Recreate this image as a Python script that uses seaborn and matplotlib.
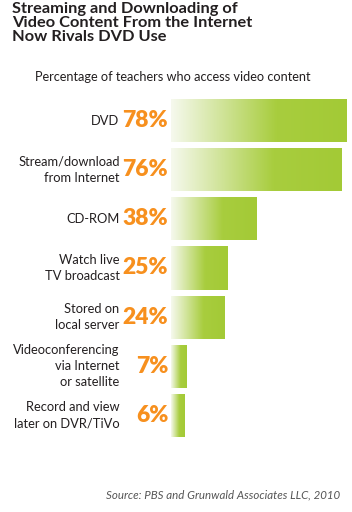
import numpy as np
import matplotlib
matplotlib.use("Agg")
import matplotlib.pyplot as plt
from matplotlib.colors import LinearSegmentedColormap
import seaborn as sns

categories = ["DVD", "Stream/download\nfrom Internet", "CD-ROM",
              "Watch live\nTV broadcast", "Stored on\nlocal server",
              "Videoconferencing\nvia Internet\nor satellite",
              "Record and view\nlater on DVR/TiVo"]
values = [78, 76, 38, 25, 24, 7, 6]
value_labels = ["78%", "76%", "38%", "25%", "24%", "7%", "6%"]

title = "Streaming and Downloading of\nVideo Content From the Internet\nNow Rivals DVD Use"
subtitle = "Percentage of teachers who access video content"
source = "Source: PBS and Grunwald Associates LLC, 2010"

sns.set_style("white")
plt.rcParams["font.family"] = ["Lato", "DejaVu Sans"]

fig = plt.figure(figsize=(3.52, 5.12), dpi=100)
ax = fig.add_axes([171 / 352, 72 / 512, 180 / 352, 344 / 512])

sns.barplot(x=values, y=categories, orient="h", width=0.88,
            color="#a5cc3a", ax=ax)

# gradient fill: pale on the left, green for the rest of the bar
cmap = LinearSegmentedColormap.from_list(
    "g", [(0, "#f6f9ee"), (0.6, "#a8cd3e"), (1, "#a3ca36")])
grad = np.linspace(0, 1, 256).reshape(1, -1)
for p in ax.patches:
    x0, y0, w, h = p.get_x(), p.get_y(), p.get_width(), p.get_height()
    p.set_facecolor("none")
    p.set_edgecolor("none")
    im = ax.imshow(grad, cmap=cmap, aspect="auto", extent=[x0, x0 + w, y0 + h, y0],
                   zorder=1, interpolation="bilinear")
    im.set_clip_path(p)

ax.set_xlim(0, 80)
ax.set_ylim(6.5, -0.5)
ax.set_xticks([])
ax.set_yticks([])
ax.set_xlabel("")
ax.set_ylabel("")
sns.despine(ax=ax, left=True, bottom=True)

for i, (cat, lab) in enumerate(zip(categories, value_labels)):
    ax.annotate(lab, (0, i), xytext=(-2, 0), textcoords="offset points",
                ha="right", va="center", fontsize=16.5, fontweight="heavy",
                color="#f7901e", annotation_clip=False)
    ax.annotate(cat, (0, i), xytext=(-37, 0), textcoords="offset points",
                ha="right", va="center", multialignment="right",
                fontsize=9.3, color="#231f20", linespacing=1.4,
                annotation_clip=False)

fig.text(12 / 352, 1 - 2 / 512, title, ha="left", va="top", fontsize=11.8,
         fontweight="bold", color="#231f20", linespacing=1.02)
fig.text(173 / 352, 1 - 77 / 512, subtitle, ha="center", va="center",
         fontsize=9.2, color="#231f20")
fig.text(340 / 352, 1 - 495 / 512, source, ha="right", va="center",
         fontsize=8.3, style="italic", color="#555555")

fig.savefig("out.png", dpi=100)
